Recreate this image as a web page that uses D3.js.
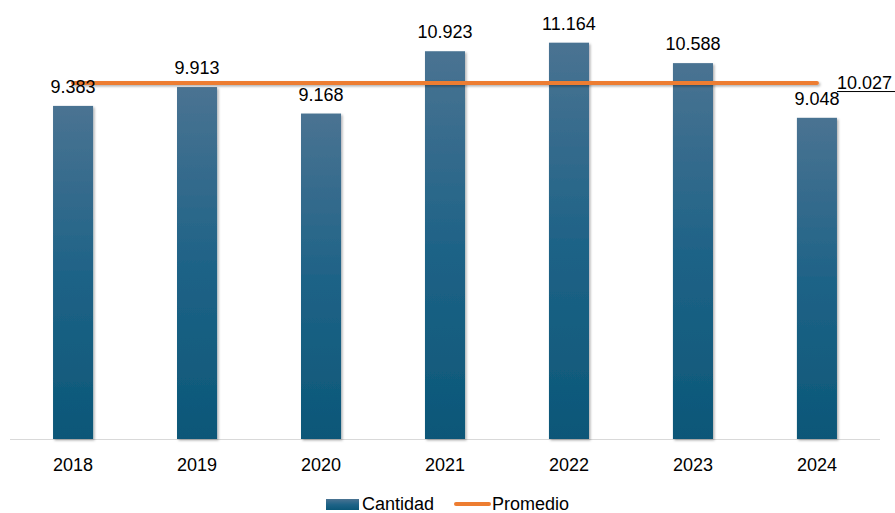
<!DOCTYPE html>
<html>
<head>
<meta charset="utf-8">
<script src="https://cdn.jsdelivr.net/npm/d3@7"></script>
<style>
  body { margin: 0; background: #fff; }
  svg text { font-family: "Liberation Sans", Arial, sans-serif; fill: #000; }
</style>
</head>
<body>
<svg width="895" height="513"></svg>
<script>
// data
var years = ["2018", "2019", "2020", "2021", "2022", "2023", "2024"];
var cantidad = [9383, 9913, 9168, 10923, 11164, 10588, 9048];
var promedio = 10027;

var svg = d3.select("svg");
var fmt = function(v) { return d3.format(",d")(v).replace(/,/g, "."); };

var x = d3.scaleBand().domain(years).range([11, 879]).paddingInner(0.677).paddingOuter(0.339);
var y = d3.scaleLinear().domain([0, 12000]).range([439, 13]);

var defs = svg.append("defs");
var grad = defs.append("linearGradient").attr("id", "barGrad")
    .attr("x1", 0).attr("y1", 0).attr("x2", 0).attr("y2", 1);
grad.append("stop").attr("offset", "0%").attr("stop-color", "#4a7392");
grad.append("stop").attr("offset", "50%").attr("stop-color", "#1f6387");
grad.append("stop").attr("offset", "100%").attr("stop-color", "#0b5778");

var shadow = defs.append("filter").attr("id", "shadow")
    .attr("x", "-20%").attr("y", "-20%").attr("width", "150%").attr("height", "150%");
shadow.append("feDropShadow").attr("dx", 1.5).attr("dy", 1.5).attr("stdDeviation", 1.2)
    .attr("flood-color", "#000").attr("flood-opacity", 0.3);

// the line is flat, so its filter needs a region in user space
var lineShadow = defs.append("filter").attr("id", "lineShadow")
    .attr("filterUnits", "userSpaceOnUse")
    .attr("x", 0).attr("y", 0).attr("width", 895).attr("height", 513);
lineShadow.append("feDropShadow").attr("dx", 1.5).attr("dy", 1.5).attr("stdDeviation", 1.2)
    .attr("flood-color", "#000").attr("flood-opacity", 0.3);

// axis line
svg.append("line")
    .attr("x1", 10).attr("x2", 880)
    .attr("y1", 439.5).attr("y2", 439.5)
    .attr("stroke", "#d9d9d9").attr("stroke-width", 1.2);

// bars
svg.selectAll(".bar")
  .data(cantidad)
  .enter().append("rect")
    .attr("class", "bar")
    .attr("x", function(d, i) { return x(years[i]); })
    .attr("width", x.bandwidth())
    .attr("y", function(d) { return y(d); })
    .attr("height", function(d) { return y(0) - y(d); })
    .attr("fill", "url(#barGrad)")
    .attr("filter", "url(#shadow)");

// average line
var cx = function(yr) { return x(yr) + x.bandwidth() / 2; };
svg.append("line")
    .attr("x1", cx(years[0])).attr("x2", cx(years[years.length - 1]))
    .attr("y1", y(promedio)).attr("y2", y(promedio))
    .attr("stroke", "#ed7d31").attr("stroke-width", 4)
    .attr("stroke-linecap", "round")
    .attr("filter", "url(#lineShadow)");

// value labels
svg.selectAll(".lbl")
  .data(cantidad)
  .enter().append("text")
    .attr("class", "lbl")
    .attr("x", function(d, i) { return cx(years[i]); })
    .attr("y", function(d) { return y(d) - 13; })
    .attr("text-anchor", "middle")
    .style("font-size", "18px")
    .text(function(d) { return fmt(d); });

// average label
svg.append("text")
    .attr("x", 837).attr("y", y(promedio) + 6)
    .style("font-size", "18px")
    .text(fmt(promedio));
svg.append("line")
    .attr("x1", 837).attr("x2", 895)
    .attr("y1", y(promedio) + 8.5).attr("y2", y(promedio) + 8.5)
    .attr("stroke", "#000").attr("stroke-width", 1);

// x axis labels
svg.selectAll(".tick-lbl")
  .data(years)
  .enter().append("text")
    .attr("class", "tick-lbl")
    .attr("x", function(d) { return cx(d); })
    .attr("y", 471)
    .attr("text-anchor", "middle")
    .style("font-size", "18px")
    .text(function(d) { return d; });

// legend
var lg = svg.append("g");
lg.append("rect").attr("x", 326).attr("y", 499).attr("width", 33).attr("height", 11)
    .attr("fill", "url(#barGrad)");
lg.append("text").attr("x", 362).attr("y", 510).style("font-size", "18px").text("Cantidad");
lg.append("line").attr("x1", 456).attr("x2", 489).attr("y1", 504).attr("y2", 504)
    .attr("stroke", "#ed7d31").attr("stroke-width", 4).attr("stroke-linecap", "round");
lg.append("text").attr("x", 492).attr("y", 510).style("font-size", "18px").text("Promedio");
</script>
</body>
</html>
